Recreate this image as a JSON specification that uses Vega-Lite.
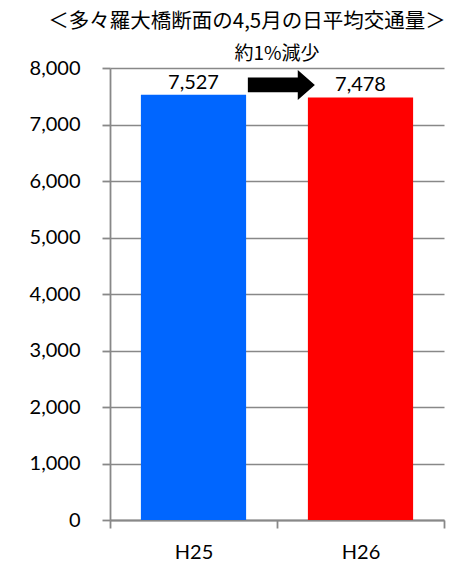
{
  "$schema": "https://vega.github.io/schema/vega-lite/v6.json",
  "autosize": {"type": "none"},
  "width": 334,
  "height": 452,
  "padding": {"left": 110, "top": 68, "right": 28, "bottom": 48},
  "background": "white",
  "title": {
    "text": "＜多々羅大橋断面の4,5月の日平均交通量＞",
    "anchor": "middle",
    "frame": "group",
    "dx": -30,
    "offset": 12,
    "font": "Noto Sans CJK JP",
    "fontSize": 20.5,
    "fontWeight": "normal",
    "color": "#000000"
  },
  "config": {
    "view": {"stroke": null},
    "axis": {
      "labelFont": "Lato",
      "labelFontSize": 20,
      "labelColor": "#000000",
      "domainColor": "#888888",
      "tickColor": "#888888",
      "gridColor": "#888888",
      "domainWidth": 1.8,
      "tickWidth": 1.8,
      "gridWidth": 1.5
    }
  },
  "datasets": {
    "traffic": [
      {"year": "H25", "volume": 7527},
      {"year": "H26", "volume": 7478}
    ],
    "note": [
      {"year": "H25", "label": "約1%減少"}
    ]
  },
  "layer": [
    {
      "data": {"name": "traffic"},
      "mark": {"type": "bar", "width": {"band": 0.63}},
      "encoding": {
        "x": {
          "field": "year",
          "type": "nominal",
          "sort": null,
          "scale": {"paddingInner": 0, "paddingOuter": 0},
          "axis": {
            "title": null,
            "labelAngle": 0,
            "tickBand": "extent",
            "tickSize": 8,
            "labelPadding": 14,
            "grid": false
          }
        },
        "y": {
          "field": "volume",
          "type": "quantitative",
          "scale": {"domain": [0, 8000], "nice": false},
          "axis": {
            "title": null,
            "values": [0, 1000, 2000, 3000, 4000, 5000, 6000, 7000, 8000],
            "format": ",d",
            "tickSize": 8,
            "labelPadding": 22,
            "grid": true
          }
        },
        "color": {
          "field": "year",
          "type": "nominal",
          "scale": {"domain": ["H25", "H26"], "range": ["#0066FF", "#FF0000"]},
          "legend": null
        }
      }
    },
    {
      "data": {"name": "traffic"},
      "mark": {"type": "text", "baseline": "alphabetic", "dy": -6, "font": "Lato", "fontSize": 20, "color": "#000000"},
      "encoding": {
        "x": {"field": "year", "type": "nominal", "sort": null},
        "y": {"field": "volume", "type": "quantitative"},
        "text": {"field": "volume", "type": "quantitative", "format": ",d"}
      }
    },
    {
      "data": {"name": "note"},
      "mark": {
        "type": "point",
        "shape": "M-0.87,-0.22 L0.62,-0.22 L0.62,-0.45 L1.13,0 L0.62,0.45 L0.62,0.22 L-0.87,0.22 Z",
        "size": 4489,
        "filled": true,
        "color": "#000000",
        "opacity": 1,
        "clip": false
      },
      "encoding": {
        "x": {"field": "year", "type": "nominal", "bandPosition": 1},
        "y": {"datum": 7700, "type": "quantitative"}
      }
    },
    {
      "data": {"name": "note"},
      "mark": {"type": "text", "font": "Noto Sans CJK JP", "fontSize": 19, "color": "#000000", "baseline": "middle", "clip": false},
      "encoding": {
        "x": {"field": "year", "type": "nominal", "bandPosition": 1},
        "y": {"datum": 8250, "type": "quantitative"},
        "text": {"field": "label"}
      }
    }
  ]
}
